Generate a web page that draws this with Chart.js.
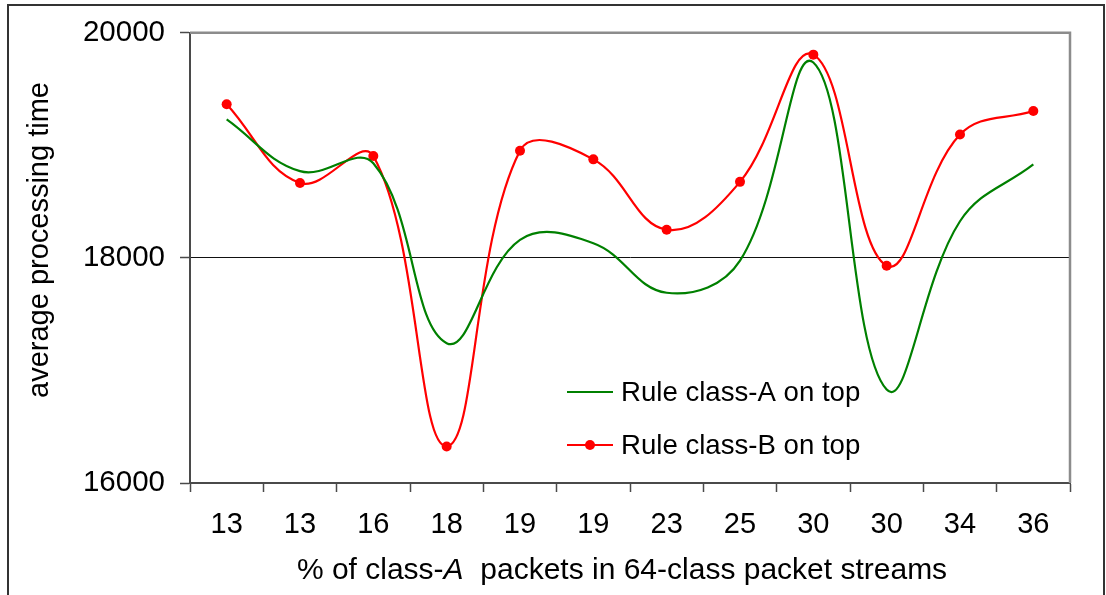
<!DOCTYPE html>
<html>
<head>
<meta charset="utf-8">
<script src="https://cdn.jsdelivr.net/npm/chart.js@4.4.1/dist/chart.umd.min.js"></script>
<style>
  html, body { margin: 0; padding: 0; background: #fff; }
  #wrap { width: 1106px; height: 595px; position: relative; }
  canvas { display: block; }
</style>
</head>
<body>
<div id="wrap"><canvas id="c" width="1106" height="595"></canvas></div>
<script>
// Share of class-A packets in each 64-class stream
const categories = ['13', '13', '16', '18', '19', '19', '23', '25', '30', '30', '34', '36'];
// Average processing time with class-A rules placed first
const ruleAOnTop = [19230, 18770, 18840, 17242, 18160, 18130, 17690, 17975, 19735, 16830, 18325, 18830];
// Average processing time with class-B rules placed first
const ruleBOnTop = [19365, 18665, 18905, 16325, 18952, 18875, 18250, 18675, 19805, 17930, 19095, 19305];
const yTicks = [16000, 18000, 20000];
const seriesNames = ['Rule class-A on top', 'Rule class-B on top'];
const yTitle = 'average processing time';
// x-axis title pieces: [text, italic]
const xTitleParts = [['% of class-', false], ['A', true], ['  packets in 64-class packet streams', false]];

const FONT = "'Liberation Sans', Arial, sans-serif";
const AXIS_DARK = '#4a4a4a';

const decorations = {
  id: 'decorations',
  beforeDraw(chart) {
    const ctx = chart.ctx;
    ctx.save();
    ctx.fillStyle = '#fff';
    ctx.fillRect(0, 0, chart.width, chart.height);
    // outer frame
    ctx.strokeStyle = '#333';
    ctx.lineWidth = 2;
    ctx.strokeRect(8, 5, 1096, 620);
    ctx.restore();
  },
  afterDraw(chart) {
    const { ctx, chartArea: a } = chart;
    ctx.save();
    // upper and right plot border
    ctx.strokeStyle = '#8c8c8c';
    ctx.lineWidth = 2.5;
    ctx.beginPath();
    ctx.moveTo(a.left, a.top);
    ctx.lineTo(a.right, a.top);
    ctx.lineTo(a.right, a.bottom);
    ctx.stroke();

    // legend inside plot
    const ds = chart.data.datasets;
    const rows = [392, 445];
    ds.forEach((d, i) => {
      const y = rows[i];
      ctx.strokeStyle = d.borderColor;
      ctx.lineWidth = 2.2;
      ctx.beginPath();
      ctx.moveTo(567, y);
      ctx.lineTo(613, y);
      ctx.stroke();
      if (d.pointRadius > 0) {
        ctx.fillStyle = d.pointBackgroundColor;
        ctx.beginPath();
        ctx.arc(590, y, d.pointRadius, 0, Math.PI * 2);
        ctx.fill();
      }
      ctx.fillStyle = '#000';
      ctx.font = `27.6px ${FONT}`;
      ctx.textBaseline = 'middle';
      ctx.textAlign = 'left';
      ctx.fillText(d.label, 621, y + 1);
    });

    // x-axis title with italic class letter
    const size = 30;
    let total = 0;
    const widths = xTitleParts.map(([t, it]) => {
      ctx.font = `${it ? 'italic ' : ''}${size}px ${FONT}`;
      const w = ctx.measureText(t).width;
      total += w;
      return w;
    });
    let x = 622 - total / 2;
    ctx.fillStyle = '#000';
    ctx.textBaseline = 'alphabetic';
    ctx.textAlign = 'left';
    xTitleParts.forEach(([t, it], i) => {
      ctx.font = `${it ? 'italic ' : ''}${size}px ${FONT}`;
      ctx.fillText(t, x, 579);
      x += widths[i];
    });

    // y-axis title
    ctx.translate(40, 240);
    ctx.rotate(-Math.PI / 2);
    ctx.font = `29px ${FONT}`;
    ctx.textAlign = 'center';
    ctx.textBaseline = 'middle';
    ctx.fillText(yTitle, 0, 0);
    ctx.restore();
  }
};

new Chart(document.getElementById('c'), {
  type: 'line',
  data: {
    labels: categories,
    datasets: [
      {
        label: seriesNames[0],
        data: ruleAOnTop,
        borderColor: '#008000',
        backgroundColor: '#008000',
        borderWidth: 2.2,
        pointRadius: 0,
        pointHoverRadius: 0,
        tension: 0.4,
        fill: false
      },
      {
        label: seriesNames[1],
        data: ruleBOnTop,
        borderColor: '#ff0000',
        backgroundColor: '#ff0000',
        pointBackgroundColor: '#ff0000',
        pointBorderColor: '#ff0000',
        borderWidth: 2.2,
        pointRadius: 5,
        pointBorderWidth: 0,
        tension: 0.4,
        fill: false
      }
    ]
  },
  options: {
    responsive: false,
    animation: false,
    devicePixelRatio: 1,
    layout: { padding: { left: 0, right: 36, top: 31, bottom: 0 } },
    plugins: {
      legend: { display: false },
      tooltip: { enabled: false },
      title: { display: false }
    },
    scales: {
      x: {
        offset: true,
        grid: {
          offset: true,
          drawOnChartArea: false,
          drawTicks: true,
          tickLength: 9,
          tickColor: AXIS_DARK,
          tickWidth: 1.5
        },
        border: { color: AXIS_DARK, width: 2 },
        ticks: {
          color: '#000',
          font: { family: FONT, size: 29 },
          padding: 16,
          maxRotation: 0,
          autoSkip: false
        },
        afterFit(scale) { scale.height = 112; }
      },
      y: {
        min: 16000,
        max: 20000,
        afterBuildTicks(scale) { scale.ticks = yTicks.map(v => ({ value: v })); },
        grid: {
          drawOnChartArea: true,
          color: c => (c.tick && c.tick.value === 18000 ? '#111' : 'rgba(0,0,0,0)'),
          lineWidth: 1,
          drawTicks: true,
          tickLength: 10,
          tickColor: AXIS_DARK,
          tickWidth: 1.5
        },
        border: { color: AXIS_DARK, width: 2 },
        ticks: {
          color: '#000',
          font: { family: FONT, size: 29.5 },
          padding: 15,
          callback: v => String(v)
        },
        afterFit(scale) { scale.width = 190; }
      }
    }
  },
  plugins: [decorations]
});
</script>
</body>
</html>
